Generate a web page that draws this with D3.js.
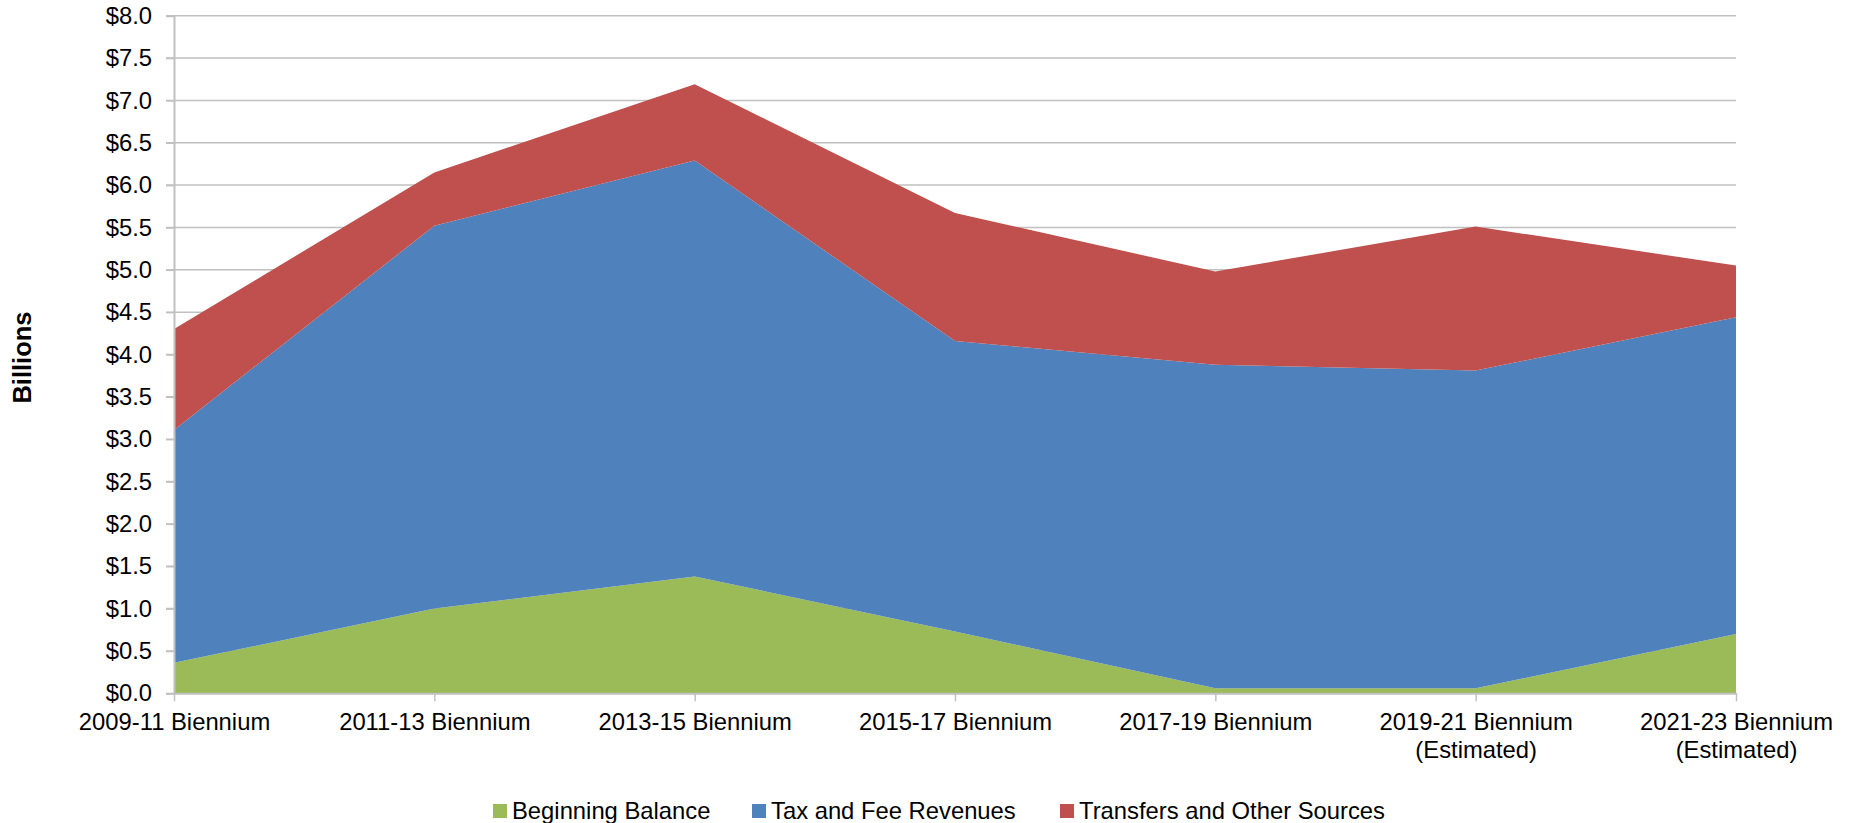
<!DOCTYPE html>
<html>
<head>
<meta charset="utf-8">
<script src="https://cdn.jsdelivr.net/npm/d3@7"></script>
<style>
  body { margin: 0; background: #fff; }
  svg { display: block; font-family: "Liberation Sans", Arial, sans-serif; }
</style>
</head>
<body>
<svg id="chart"></svg>
<script>
// biennium labels (line breaks marked with \n)
const categories = [
  '2009-11 Biennium',
  '2011-13 Biennium',
  '2013-15 Biennium',
  '2015-17 Biennium',
  '2017-19 Biennium',
  '2019-21 Biennium\n(Estimated)',
  '2021-23 Biennium\n(Estimated)'
]

// billions of dollars
const beginningBalance = [0.36, 1.00, 1.38, 0.73, 0.06, 0.06, 0.70]
const taxAndFee = [2.75, 4.52, 4.91, 3.43, 3.82, 3.75, 3.74]
const transfers = [1.19, 0.63, 0.90, 1.51, 1.10, 1.70, 0.61]

const seriesNames = ['Beginning Balance', 'Tax and Fee Revenues', 'Transfers and Other Sources']
const seriesColors = ['#9bbb59', '#4f81bd', '#c0504d']

const yTicks = d3.range(0, 8.01, 0.5)

const W = 1852, H = 823
const margin = {top: 15.7, right: 116, bottom: 129.7, left: 174}
const w = W - margin.left - margin.right
const h = H - margin.top - margin.bottom

const rows = categories.map((c, i) => ({
  cat: c,
  'Beginning Balance': beginningBalance[i],
  'Tax and Fee Revenues': taxAndFee[i],
  'Transfers and Other Sources': transfers[i]
}))

const svg = d3.select('#chart').attr('width', W).attr('height', H)
const g = svg.append('g').attr('transform', 'translate(' + margin.left + ',' + margin.top + ')')

const x = d3.scalePoint().domain(categories).range([0, w])
const y = d3.scaleLinear().domain([0, 8]).range([h, 0])

// gridlines
g.append('g')
  .selectAll('line')
  .data(yTicks.slice(1))
  .join('line')
    .attr('x1', -8)
    .attr('x2', w)
    .attr('y1', d => y(d))
    .attr('y2', d => y(d))
    .attr('stroke', '#c0c0c0')
    .attr('stroke-width', 1.5)

// stacked areas
const stacked = d3.stack().keys(seriesNames)(rows)
const area = d3.area()
  .x(d => x(d.data.cat))
  .y0(d => y(d[0]))
  .y1(d => y(d[1]))

g.append('g')
  .selectAll('path')
  .data(stacked)
  .join('path')
    .attr('d', area)
    .attr('fill', (d, i) => seriesColors[i])

// y axis
const yAxis = g.append('g')
  .call(d3.axisLeft(y).tickValues(yTicks).tickSize(8).tickPadding(14).tickFormat(d => '$' + d3.format('.1f')(d)))
yAxis.select('.domain').attr('stroke', '#c0c0c0').attr('stroke-width', 2)
yAxis.selectAll('.tick line').attr('stroke', '#c0c0c0').attr('stroke-width', 1.5)
yAxis.selectAll('text').attr('font-size', '23.8px').attr('fill', '#000')
  .attr('font-family', '"Liberation Sans", Arial, sans-serif')

// x axis
const xAxis = g.append('g')
  .attr('transform', 'translate(0,' + h + ')')
  .call(d3.axisBottom(x).tickSize(8).tickPadding(12).tickSizeOuter(0))
xAxis.select('.domain').attr('stroke', '#c0c0c0').attr('stroke-width', 2)
xAxis.selectAll('.tick line').attr('stroke', '#c0c0c0').attr('stroke-width', 1.5)
xAxis.selectAll('text')
  .attr('font-size', '23.8px').attr('fill', '#000')
  .attr('font-family', '"Liberation Sans", Arial, sans-serif')
  .each(function(d) {
    const t = d3.select(this)
    t.text(null)
    d.split('\n').forEach((line, i) => {
      t.append('tspan').attr('x', 0).attr('dy', i === 0 ? '0.71em' : '1.16em').text(line)
    })
  })
  .attr('dy', null)

// y axis title
svg.append('text')
  .attr('transform', 'translate(31,' + (margin.top + h / 2 + 3) + ') rotate(-90)')
  .attr('text-anchor', 'middle')
  .attr('font-size', '25.5px')
  .attr('font-weight', 'bold')
  .text('Billions')

// legend
const legendX = [493, 752, 1060]
const legend = svg.append('g')
  .selectAll('g')
  .data(seriesNames)
  .join('g')
    .attr('transform', (d, i) => 'translate(' + legendX[i] + ',804)')
legend.append('rect')
  .attr('width', 14).attr('height', 14)
  .attr('fill', (d, i) => seriesColors[i])
legend.append('text')
  .attr('x', 19).attr('y', 14.5)
  .attr('font-size', '23.8px')
  .text(d => d)
</script>
</body>
</html>
